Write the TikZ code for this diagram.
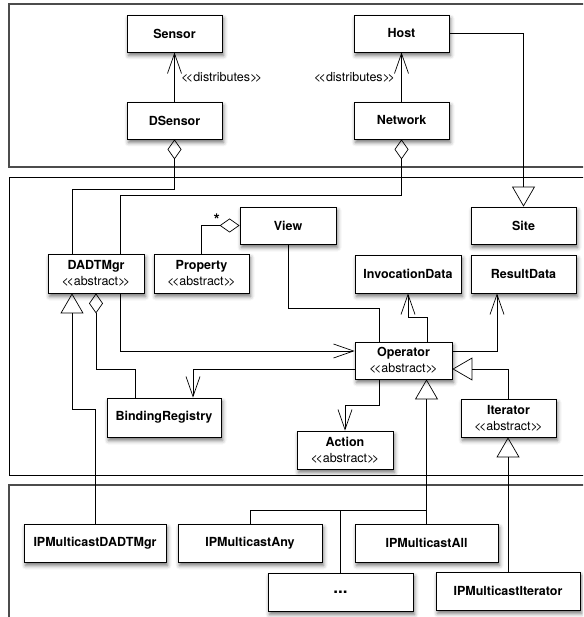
\documentclass[tikz,border=0pt]{standalone}
\usepackage{fontspec}
\setmainfont{TeX Gyre Heros}
\usetikzlibrary{arrows.meta,shadows.blur}
\newcommand{\umlstereo}[1]{\textmd{<\kern-2.5pt<#1>\kern-2.5pt>}}
\tikzstyle{class-node}=[draw,fill=white,line width=0.8pt,minimum height=37pt,inner sep=2pt,align=center,font=\fontsize{12.5}{16}\selectfont\bfseries,blur shadow={shadow xshift=1.5pt,shadow yshift=-3.5pt,shadow blur radius=4pt,shadow opacity=55}]
\tikzstyle{stereo-label}=[font=\fontsize{12.5}{16}\selectfont]
\tikzstyle{panel-box}=[draw=gray!60!black,line width=1.2pt]
\tikzstyle{inner-panel}=[draw=black,line width=0.8pt]
\tikzstyle{black-line}=[draw=black,line width=0.7pt]
\tikzstyle{nav-line}=[black-line,-{Straight Barb[length=20pt,width=14pt]}]
\tikzstyle{gen-line}=[black-line,-{Triangle[open,length=20pt,width=23pt]}]
\tikzstyle{agg-line}=[black-line,{Diamond[open,length=20pt,width=14pt]}-]

\begin{document}
\begin{tikzpicture}[x=1pt,y=-1pt]
	\path[use as bounding box] (0,0) rectangle (583,617);
	\clip (0,0) rectangle (583,617);

	% layers
	\draw[panel-box] (9,4) rectangle (620,167);
	\draw[inner-panel] (9,177) rectangle (620,475);
	\draw[panel-box] (9,485) rectangle (620,660);

	\begin{scope}
	\node (sensor)[class-node,minimum width=95pt] at (174.5,33.5) {Sensor};
	\node (host)[class-node,minimum width=95pt] at (401.5,33.5) {Host};
	\node (dsensor)[class-node,minimum width=95pt] at (174.5,120.5) {DSensor};
	\node (network)[class-node,minimum width=95pt] at (401.5,120.5) {Network};

	\node (dadtmgr)[class-node,minimum width=96pt,minimum height=39pt] at (96,273.5) {DADTMgr\\\umlstereo{abstract}};
	\node (property)[class-node,minimum width=95pt,minimum height=39pt] at (201.5,273.5) {Property\\\umlstereo{abstract}};
	\node (view)[class-node,minimum width=96pt] at (288,225.5) {View};
	\node (site)[class-node,minimum width=105pt] at (523.5,225.5) {Site};
	\node (invdata)[class-node,minimum width=106pt,minimum height=38pt] at (408,274) {InvocationData};
	\node (resdata)[class-node,minimum width=105pt,minimum height=38pt] at (523.5,274) {ResultData};
	\node (operator)[class-node,minimum width=97pt] at (403.5,360.5) {Operator\\\umlstereo{abstract}};
	\node (iterator)[class-node,minimum width=95pt,minimum height=38pt] at (508.5,418) {Iterator\\\umlstereo{abstract}};
	\node (action)[class-node,minimum width=96pt,minimum height=38pt] at (345,450) {Action\\\umlstereo{abstract}};
	\node (bindreg)[class-node,minimum width=114pt,minimum height=39pt] at (164,417.5) {BindingRegistry};

	\node (ipmdadt)[class-node,minimum width=142pt,minimum height=38pt] at (95,543) {IPMulticastDADTMgr};
	\node (ipmany)[class-node,minimum width=144pt,minimum height=38pt] at (250,543) {IPMulticastAny};
	\node (ipmall)[class-node,minimum width=143pt,minimum height=38pt] at (426.5,543) {IPMulticastAll};
	\node (ipmdots)[class-node,minimum width=145pt,minimum height=38pt] at (340.5,592) {\fontsize{17}{17}\selectfont...};
	\node (ipmiter)[class-node,minimum width=144pt,minimum height=38pt] at (508,591) {IPMulticastIterator};
	\end{scope}

	\coordinate (c-dsn) at (72,189);
	\coordinate (c-net) at (120,195);
	\coordinate (c-view) at (379,308);
	\coordinate (c-inv) at (427,317);
	\coordinate (c-res) at (497,351);
	\coordinate (c-dop) at (120,351);
	\coordinate (c-bnd) at (193,369);
	\coordinate (c-agg) at (135,369);
	\coordinate (c-gen) at (72,409);
	\coordinate (c-act) at (379,405);
	\coordinate (c-itr) at (508.5,369);
	\coordinate (c-sub) at (427,510);

	\begin{scope}
	\draw[nav-line] (dsensor) -- (sensor) node[midway,right=3pt,stereo-label] {\umlstereo{distributes}};
	\draw[nav-line] (network) -- (host) node[midway,left=3pt,stereo-label] {\umlstereo{distributes}};
	\draw[gen-line] (host.east) -| (site.north);

	\draw[agg-line] (dsensor.south) |- (c-dsn) -- (c-dsn |- dadtmgr.north);
	\draw[agg-line] (network.south) |- (c-net) -- (c-net |- dadtmgr.north);
	\draw[agg-line] (view.west) -| (property.north) node[pos=0.3,above,inner sep=0pt,font=\fontsize{16}{16}\selectfont\bfseries] {*};
	\draw[black-line] (view.south) |- (c-view) -- (c-view |- operator.north);
	\draw[nav-line] (c-inv |- operator.north) -- (c-inv) -| (invdata.south);
	\draw[nav-line] (c-res -| operator.east) -- (c-res) -- (c-res |- resdata.south);
	\draw[nav-line] (c-dop |- dadtmgr.south) -- (c-dop) -- (c-dop -| operator.west);
	\draw[nav-line] (c-bnd -| operator.west) -- (c-bnd) -- (c-bnd |- bindreg.north);
	\draw[agg-line] (dadtmgr.south) |- (c-agg) -- (c-agg |- bindreg.north);
	\draw[gen-line] (ipmdadt.north) |- (c-gen) -- (c-gen |- dadtmgr.south);
	\draw[nav-line] (c-act |- operator.south) -- (c-act) -| (action.north);
	\draw[gen-line] (iterator.north) -- (c-itr) -- (c-itr -| operator.east);

	\draw[gen-line] (ipmall.north) -- (ipmall.north |- operator.south);
	\draw[black-line] (ipmany.north) |- (c-sub);
	\draw[black-line] (ipmdots.north) -- (ipmdots.north |- c-sub);
	\draw[gen-line] (ipmiter.north) -- (ipmiter.north |- iterator.south);
	\end{scope}
\end{tikzpicture}
\end{document}
